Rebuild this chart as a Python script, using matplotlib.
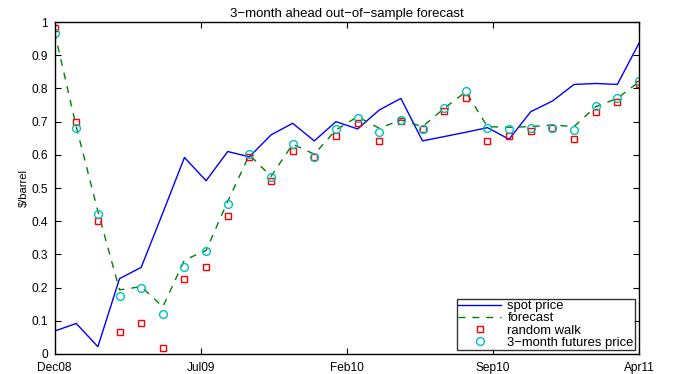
import numpy as np
import matplotlib
matplotlib.use('Agg')
import matplotlib.pyplot as plt

plt.rcParams['font.family'] = ['Liberation Sans', 'DejaVu Sans']

# monthly observations, Dec08 .. Apr11
spot = [0.069, 0.092, 0.022, 0.227, 0.261, 0.425, 0.592, 0.522, 0.610, 0.594,
        0.660, 0.695, 0.642, 0.700, 0.678, 0.735, 0.770, 0.642, 0.655, 0.668,
        0.682, 0.647, 0.730, 0.762, 0.812, 0.815, 0.812, 0.936]
forecast = [0.970, 0.685, 0.430, 0.193, 0.203, 0.142, 0.283, 0.312, 0.460, 0.600,
            0.535, 0.632, 0.602, 0.675, 0.715, 0.680, 0.705, 0.685, 0.740, 0.790,
            0.685, 0.683, 0.685, 0.690, 0.685, 0.745, 0.770, 0.820]
random_walk = [0.981, 0.700, 0.402, 0.067, 0.092, 0.019, 0.226, 0.261, 0.417, 0.592,
               0.522, 0.611, 0.592, 0.658, 0.695, 0.642, 0.702, 0.677, 0.732, 0.770,
               0.642, 0.658, 0.673, 0.682, 0.647, 0.728, 0.760, 0.812]
futures = [0.968, 0.682, 0.422, 0.175, 0.198, 0.120, 0.261, 0.309, 0.453, 0.604,
           0.532, 0.632, 0.592, 0.677, 0.710, 0.670, 0.705, 0.677, 0.740, 0.792,
           0.682, 0.677, 0.682, 0.682, 0.675, 0.747, 0.772, 0.823]
tick_labels = ['Dec08', 'Jul09', 'Feb10', 'Sep10', 'Apr11']

x = np.arange(len(spot))

fig = plt.figure(figsize=(6.74, 3.74), dpi=100)
ax = fig.add_axes([0.081, 0.0535, 0.867, 0.8875])

ax.plot(x, spot, color='#0000ff', lw=1.0, label='spot price')
ax.plot(x, forecast, color='#008000', lw=1.0, ls=(0, (5, 5)), label='forecast')
ax.plot(x, random_walk, ls='none', marker='s', ms=4.6, mfc='none', mec='#ff0000',
        mew=1.0, label='random walk')
ax.plot(x, futures, ls='none', marker='o', ms=5.6, mfc='none', mec='#00c0c0',
        mew=1.0, label='3\u2212month futures price')

ax.set_xlim(0, len(spot) - 1)
ax.set_ylim(0, 1)
ax.set_xticks(np.linspace(0, len(spot) - 1, len(tick_labels)))
ax.set_xticklabels(tick_labels)
ax.set_yticks(np.arange(0, 1.01, 0.1))
ax.set_yticklabels(['0'] + ['%.1f' % v for v in np.arange(0.1, 0.95, 0.1)] + ['1'])
ax.tick_params(direction='in', top=True, right=True, labelsize=8.6, length=4, width=0.8)
ax.tick_params(axis='x', pad=6)
ax.tick_params(axis='y', pad=5)
for s in ax.spines.values():
    s.set_linewidth(1.0)

ax.set_ylabel('\\$/barrel', fontsize=8, labelpad=2)
ax.set_title('3\u2212month ahead out\u2212of\u2212sample forecast', fontsize=9.5, pad=4)

leg = ax.legend(loc='lower right', fontsize=9.4, frameon=True, fancybox=False,
                borderpad=0.1, labelspacing=0.0, handlelength=3.3, handletextpad=0.45,
                borderaxespad=0.3)
leg.get_frame().set_edgecolor('black')
leg.get_frame().set_linewidth(1.0)

fig.savefig('out.png', dpi=100)
